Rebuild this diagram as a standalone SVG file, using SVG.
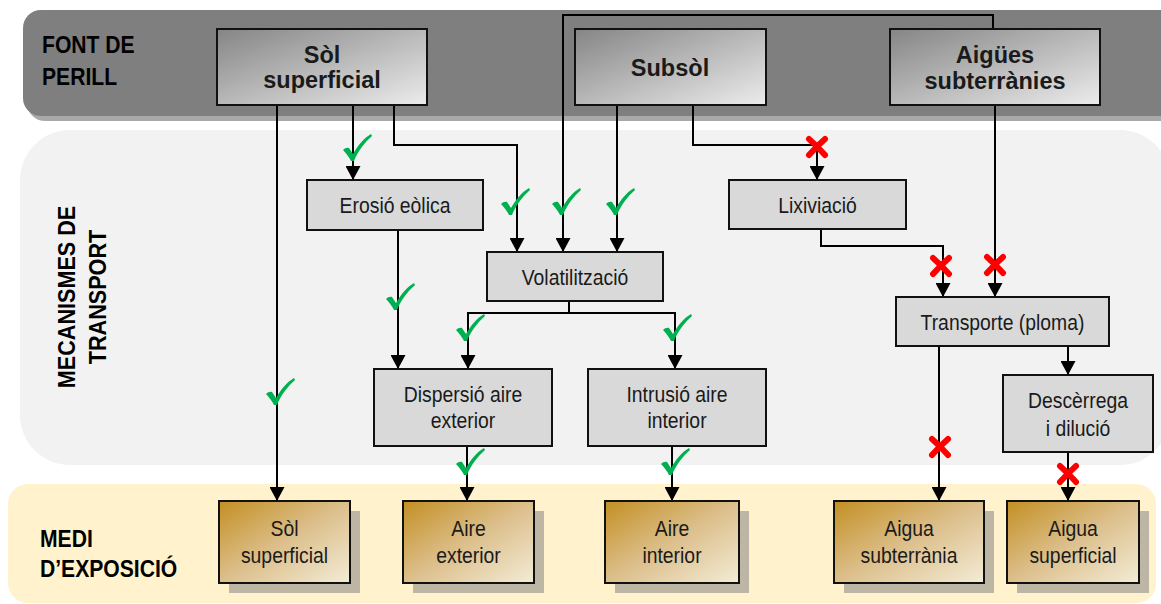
<svg xmlns="http://www.w3.org/2000/svg" xmlns:xlink="http://www.w3.org/1999/xlink" width="1161" height="604" viewBox="0 0 1161 604">
<style>
.lbl{font-family:"Liberation Sans",Arial,sans-serif;font-weight:bold;font-size:24px;fill:#000}
.tb{font-family:"Liberation Sans",Arial,sans-serif;font-weight:bold;font-size:23.5px;fill:#1a1a1a;text-anchor:middle}
.t{font-family:"Liberation Sans",Arial,sans-serif;font-size:22px;fill:#1a1a1a;text-anchor:middle}
.tbot{font-family:"Liberation Sans",Arial,sans-serif;font-size:22px;fill:#1a1a1a;text-anchor:middle}
.topn{fill:url(#gGray);stroke:#111;stroke-width:2}
.mid{fill:#d9d9d9;stroke:#111;stroke-width:2}
.bot{fill:url(#gGold);stroke:#111;stroke-width:2}
.sh{fill:#bdb6a4}
.ca{fill:none;stroke:#000;stroke-width:2;marker-end:url(#ah)}
.x{fill:none;stroke:#ff0000;stroke-width:6;stroke-linecap:round}
.ck{fill:#00b050}
</style>
<defs>
<linearGradient id="gGray" x1="0" y1="0" x2="1" y2="1">
<stop offset="0" stop-color="#858585"/>
<stop offset="1" stop-color="#ececec"/>
</linearGradient>
<linearGradient id="gGold" x1="0" y1="0" x2="1" y2="1">
<stop offset="0" stop-color="#c38f22"/>
<stop offset="0.5" stop-color="#dcbf8c"/>
<stop offset="1" stop-color="#f3ecd6"/>
</linearGradient>
<marker id="ah" markerUnits="userSpaceOnUse" markerWidth="15" markerHeight="15" refX="14" refY="7.5" orient="auto" viewBox="0 0 15 15">
<path d="M0,0 L14,7.5 L0,15 Z" fill="#000"/>
</marker>
<path id="check" class="ck" d="M-14,2 C-12,0 -10,-0.5 -8,0 L-4,6 C1,-3 7,-10 14,-14 L15,-12 C8,-6 1,3 -3,13 L-6,13 C-8,9 -11,5 -14,2 Z"/>
<g id="cross"><path class="x" d="M-8,-8 Q0,-1 8,8"/><path class="x" d="M8,-8 Q0,-1 -8,8"/></g>
</defs>

<!-- bands -->
<g id="bands">
<rect x="27" y="14" width="1160" height="107" rx="18" fill="#a9a9a9"/>
<rect x="23" y="10" width="1160" height="106" rx="18" fill="#7f7f7f"/>
<rect x="20" y="130" width="1150" height="335" rx="50" fill="#f2f2f2"/>
<rect x="8" y="484" width="1148" height="119" rx="20" fill="#fff2cc"/>
<text class="lbl" transform="translate(42 53) scale(0.88 1)">FONT DE</text>
<text class="lbl" transform="translate(42 85) scale(0.88 1)">PERILL</text>
<text class="lbl" text-anchor="middle" transform="translate(75 297) rotate(-90) scale(0.9 1)">MECANISMES DE</text>
<text class="lbl" text-anchor="middle" transform="translate(106 297) rotate(-90) scale(0.9 1)">TRANSPORT</text>
<text class="lbl" transform="translate(40 547) scale(0.88 1)">MEDI</text>
<text class="lbl" transform="translate(40 577) scale(0.88 1)">D’EXPOSICIÓ</text>
</g>

<!-- connectors -->
<g id="connectors">
<path class="ca" d="M277,105 V501"/>
<path class="ca" d="M353,105 V180"/>
<path class="ca" d="M394,105 V145 H517 V252"/>
<path class="ca" d="M993,29 V15 H563 V252"/>
<path class="ca" d="M617,105 V252"/>
<path class="ca" d="M693,105 V145 H817 V180"/>
<path class="ca" d="M398,230 V369"/>
<path class="ca" d="M569,301 V313 H468 V369"/>
<path class="ca" d="M569,313 H675 V369"/>
<path class="ca" d="M467,446 V501"/>
<path class="ca" d="M672,446 V501"/>
<path class="ca" d="M821,229 V246 H943 V297"/>
<path class="ca" d="M995,105 V297"/>
<path class="ca" d="M939,346 V501"/>
<path class="ca" d="M1068,346 V375"/>
<path class="ca" d="M1068,452 V501"/>
</g>

<!-- source nodes -->
<g id="n-sol-sup">
<rect class="topn" x="217" y="29" width="210" height="76"/>
<text class="tb" x="322" y="63">Sòl</text>
<text class="tb" x="322" y="88">superficial</text>
</g>
<g id="n-subsol">
<rect class="topn" x="575" y="29" width="191" height="76"/>
<text class="tb" x="670" y="76">Subsòl</text>
</g>
<g id="n-aigues">
<rect class="topn" x="890" y="29" width="210" height="76"/>
<text class="tb" x="995" y="63">Aigües</text>
<text class="tb" x="995" y="89">subterrànies</text>
</g>

<!-- transport nodes -->
<g id="n-erosio">
<rect class="mid" x="307" y="180" width="176" height="50"/>
<text class="t" transform="translate(395 213) scale(0.88 1)">Erosió eòlica</text>
</g>
<g id="n-volat">
<rect class="mid" x="487" y="252" width="176" height="49"/>
<text class="t" transform="translate(575 285) scale(0.88 1)">Volatilització</text>
</g>
<g id="n-lixiv">
<rect class="mid" x="729" y="180" width="177" height="49"/>
<text class="t" transform="translate(817.5 213) scale(0.88 1)">Lixiviació</text>
</g>
<g id="n-transp">
<rect class="mid" x="896" y="297" width="213" height="49"/>
<text class="t" transform="translate(1002.5 330) scale(0.88 1)">Transporte (ploma)</text>
</g>
<g id="n-dispersio">
<rect class="mid" x="374" y="369" width="178" height="77"/>
<text class="t" transform="translate(463 402) scale(0.88 1)">Dispersió aire</text>
<text class="t" transform="translate(463 428) scale(0.88 1)">exterior</text>
</g>
<g id="n-intrusio">
<rect class="mid" x="588" y="369" width="178" height="77"/>
<text class="t" transform="translate(677 402) scale(0.88 1)">Intrusió aire</text>
<text class="t" transform="translate(677 428) scale(0.88 1)">interior</text>
</g>
<g id="n-descarrega">
<rect class="mid" x="1003" y="375" width="150" height="77"/>
<text class="t" transform="translate(1078 408) scale(0.88 1)">Descèrrega</text>
<text class="t" transform="translate(1078 436) scale(0.88 1)">i dilució</text>
</g>

<!-- exposure nodes -->
<g id="e-sol">
<rect class="sh" x="229" y="511" width="131" height="82"/>
<rect class="bot" x="219" y="501" width="131" height="82"/>
<text class="tbot" transform="translate(284.5 536) scale(0.88 1)">Sòl</text>
<text class="tbot" transform="translate(284.5 563) scale(0.88 1)">superficial</text>
</g>
<g id="e-aire-ext">
<rect class="sh" x="413" y="511" width="131" height="82"/>
<rect class="bot" x="403" y="501" width="131" height="82"/>
<text class="tbot" transform="translate(468.5 536) scale(0.88 1)">Aire</text>
<text class="tbot" transform="translate(468.5 563) scale(0.88 1)">exterior</text>
</g>
<g id="e-aire-int">
<rect class="sh" x="615" y="511" width="134" height="82"/>
<rect class="bot" x="605" y="501" width="134" height="82"/>
<text class="tbot" transform="translate(672 536) scale(0.88 1)">Aire</text>
<text class="tbot" transform="translate(672 563) scale(0.88 1)">interior</text>
</g>
<g id="e-aigua-sub">
<rect class="sh" x="844" y="511" width="150" height="82"/>
<rect class="bot" x="834" y="501" width="150" height="82"/>
<text class="tbot" transform="translate(909 536) scale(0.88 1)">Aigua</text>
<text class="tbot" transform="translate(909 563) scale(0.88 1)">subterrània</text>
</g>
<g id="e-aigua-sup">
<rect class="sh" x="1017" y="511" width="132" height="82"/>
<rect class="bot" x="1007" y="501" width="132" height="82"/>
<text class="tbot" transform="translate(1073 536) scale(0.88 1)">Aigua</text>
<text class="tbot" transform="translate(1073 563) scale(0.88 1)">superficial</text>
</g>

<!-- marks -->
<g id="marks">
<use xlink:href="#check" x="357" y="148"/>
<use xlink:href="#check" x="515" y="202"/>
<use xlink:href="#check" x="566" y="202"/>
<use xlink:href="#check" x="620" y="202"/>
<use xlink:href="#check" x="400" y="297"/>
<use xlink:href="#check" x="470" y="328"/>
<use xlink:href="#check" x="677" y="328"/>
<use xlink:href="#check" x="470" y="462"/>
<use xlink:href="#check" x="675" y="462"/>
<use xlink:href="#check" x="280" y="392"/>
<use xlink:href="#cross" x="817" y="147"/>
<use xlink:href="#cross" x="941" y="266"/>
<use xlink:href="#cross" x="995" y="265"/>
<use xlink:href="#cross" x="940" y="447"/>
<use xlink:href="#cross" x="1068" y="474"/>
</g>
</svg>
